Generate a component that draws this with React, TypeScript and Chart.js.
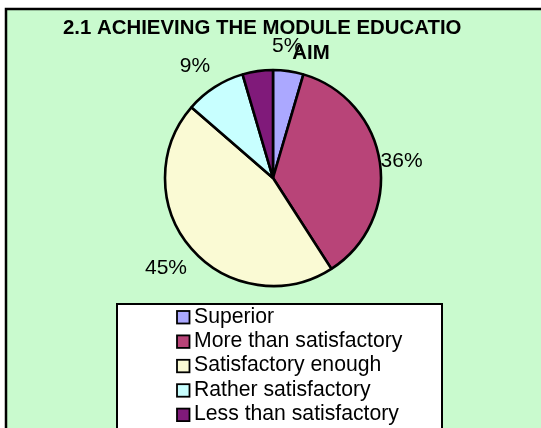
import React, { useEffect, useRef } from "react";
import { Chart, registerables } from "chart.js";

Chart.register(...registerables);

const categories = [
  "Superior",
  "More than satisfactory",
  "Satisfactory enough",
  "Rather satisfactory",
  "Less than satisfactory",
];
const responses = [1, 8, 10, 2, 1];
const labelShown = [true, true, true, true, false];
const sliceColors = ["#ABA8FF", "#B84478", "#FAFAD4", "#C8FFFF", "#801A7A"];
const titleLines = ["2.1 ACHIEVING THE MODULE EDUCATIONAL", "AIM"];

const FONT = "'Liberation Sans', Arial, sans-serif";

const framePlugin = {
  id: "frame",
  beforeDraw(chart: any) {
    const { ctx, width, height } = chart;
    ctx.save();
    ctx.fillStyle = "#ffffff";
    ctx.fillRect(0, 0, width, height);
    ctx.fillStyle = "#C9FACE";
    ctx.fillRect(6, 9, width + 20, height + 20);
    ctx.strokeStyle = "#000000";
    ctx.lineWidth = 2.5;
    ctx.strokeRect(6, 9, width + 20, height + 20);
    ctx.restore();
  },
  afterDatasetsDraw(chart: any) {
    const { ctx } = chart;
    const meta = chart.getDatasetMeta(0);
    const data = chart.data.datasets[0].data as number[];
    const total = data.reduce((a, b) => a + b, 0);
    ctx.save();
    // percentage labels
    ctx.font = `21px ${FONT}`;
    ctx.fillStyle = "#000000";
    ctx.textAlign = "center";
    ctx.textBaseline = "middle";
    meta.data.forEach((arc: any, i: number) => {
      if (!labelShown[i]) return;
      const p = arc.getProps(["x", "y", "startAngle", "endAngle", "outerRadius"], true);
      const mid = (p.startAngle + p.endAngle) / 2;
      const r = p.outerRadius + 27;
      const pct = Math.round((data[i] / total) * 100);
      ctx.fillText(pct + "%", p.x + Math.cos(mid) * r - 5, p.y + Math.sin(mid) * r + 2);
    });
    // title
    ctx.font = `bold 20.4px ${FONT}`;
    ctx.textBaseline = "alphabetic";
    ctx.save();
    ctx.beginPath();
    ctx.rect(0, 0, 461, 40);
    ctx.clip();
    ctx.textAlign = "left";
    ctx.fillText(titleLines[0], 63, 33.5);
    ctx.restore();
    ctx.textAlign = "center";
    ctx.fillText(titleLines[1], 311, 59);
    // legend box
    ctx.fillStyle = "#ffffff";
    ctx.fillRect(117, 304, 325, 140);
    ctx.strokeStyle = "#000000";
    ctx.lineWidth = 2;
    ctx.strokeRect(117, 304, 325, 140);
    ctx.font = `21.2px ${FONT}`;
    ctx.textAlign = "left";
    const colors = chart.data.datasets[0].backgroundColor as string[];
    (chart.data.labels as string[]).forEach((lab, i) => {
      const base = 322.5 + i * 24.4;
      ctx.fillStyle = colors[i];
      ctx.fillRect(177, base - 11.5, 12.5, 12.5);
      ctx.lineWidth = 1.8;
      ctx.strokeStyle = "#000000";
      ctx.strokeRect(177, base - 11.5, 12.5, 12.5);
      ctx.fillStyle = "#000000";
      ctx.fillText(lab, 194, base);
    });
    ctx.restore();
  },
};

export default function App() {
  const ref = useRef<HTMLCanvasElement | null>(null);
  useEffect(() => {
    if (!ref.current) return;
    const chart = new Chart(ref.current, {
      type: "pie",
      data: {
        labels: categories,
        datasets: [
          {
            data: responses,
            backgroundColor: sliceColors,
            borderColor: "#000000",
            borderWidth: 2.6,
            radius: 108,
          } as any,
        ],
      },
      options: {
        animation: false,
        responsive: false,
        devicePixelRatio: 1,
        layout: { padding: { left: 60, right: 55, top: 60, bottom: 132 } },
        plugins: {
          legend: { display: false },
          title: { display: false },
          tooltip: { enabled: false },
        },
      },
      plugins: [framePlugin],
    });
    return () => chart.destroy();
  }, []);
  return (
    <div style={{ position: "absolute", left: 0, top: 0, width: 541, height: 428 }}>
      <canvas ref={ref} width={541} height={428} style={{ display: "block" }} />
    </div>
  );
}
